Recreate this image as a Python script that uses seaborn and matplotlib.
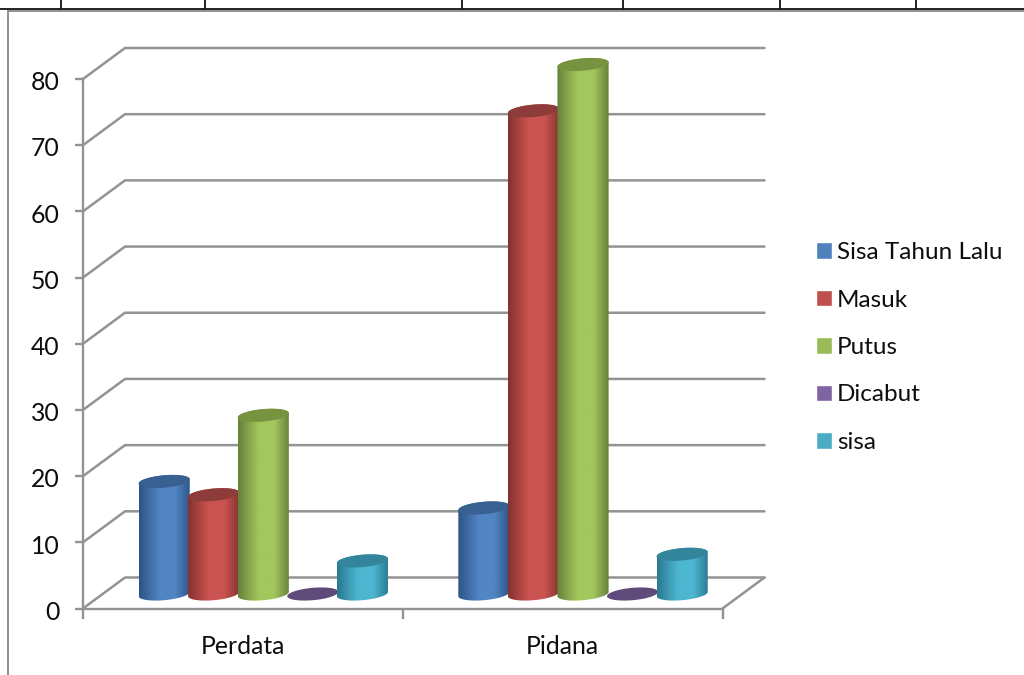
import matplotlib
matplotlib.use("Agg")
import matplotlib.pyplot as plt
import numpy as np
import pandas as pd
import seaborn as sns
from matplotlib.colors import LinearSegmentedColormap
from matplotlib.lines import Line2D
from matplotlib.path import Path
from matplotlib.patches import PathPatch
from matplotlib.transforms import Affine2D, IdentityTransform

categories = ["Perdata", "Pidana"]
series_names = ["Sisa Tahun Lalu", "Masuk", "Putus", "Dicabut", "sisa"]
sisa_tahun_lalu = [17, 13]
masuk = [15, 73]
putus = [27, 80]
dicabut = [0, 0]
sisa = [5, 6]
y_ticks = [0, 10, 20, 30, 40, 50, 60, 70, 80]

face_colors = ["#4F81BD", "#C0504D", "#9BBB59", "#8064A2", "#4BACC6"]
mid_colors = ["#5285C5", "#CB5451", "#A3C75D", "#8064A2", "#4DB6D1"]
edge_colors = ["#2C5485", "#84322F", "#66813A", "#5F497A", "#2A7890"]
cap_colors = ["#386090", "#8E3C39", "#77933F", "#604A7B", "#33859C"]

GRID = "#939393"
TEXT = "#0D0D0D"
W, H = 1024, 675

sns.set_theme(style="white")
plt.rcParams["font.family"] = ["Lato", "DejaVu Sans"]

fig = plt.figure(figsize=(W / 100, H / 100), dpi=100, facecolor="white")
ax = fig.add_axes([83 / W, 1 - 608.5 / H, 639.5 / W, 529.5 / H])

values = [sisa_tahun_lalu, masuk, putus, dicabut, sisa]
df = pd.DataFrame({
    "kategori": [c for _ in series_names for c in categories],
    "perkara": [s for s in series_names for _ in categories],
    "jumlah": [v for row in values for v in row],
})

sns.barplot(data=df, x="kategori", y="jumlah", hue="perkara", hue_order=series_names,
            order=categories, palette=face_colors, width=0.775, gap=0, saturation=1,
            errorbar=None, ax=ax, zorder=3)

ax.set_xlim(-0.5, 1.5)
ax.set_ylim(0, 80)
ax.set_xlabel("")
ax.set_ylabel("")
ax.patch.set_alpha(0)
for name, spine in ax.spines.items():
    spine.set_visible(name in ("left", "bottom"))
    spine.set_color(GRID)
    spine.set_linewidth(1.7)

ax.set_yticks(y_ticks)
ax.tick_params(axis="y", length=6, width=1.7, color=GRID, left=True, pad=11,
               labelsize=17.8, labelcolor=TEXT)
ax.set_xticks([-0.5, 0.5, 1.5], labels=[])
ax.set_xticks([0, 1], labels=categories, minor=True)
ax.tick_params(axis="x", which="major", length=7, width=1.7, color=GRID, bottom=True)
ax.tick_params(axis="x", which="minor", length=0, pad=19, labelsize=17.8, labelcolor=TEXT)


def to_px(x, v, dx=0.0, dy=0.0):
    px, py = ax.transData.transform((x, v))
    return px + dx, py + dy


def guide(points):
    xs, ys = zip(*points)
    ax.add_line(Line2D(xs, ys, transform=IdentityTransform(), color=GRID, lw=1.8,
                       clip_on=False, zorder=1, solid_capstyle="round"))


# Back wall and left wall of the 3-D box
DEPTH_X, DEPTH_Y = 42, 31
for v in y_ticks:
    guide([to_px(-0.5, v), to_px(-0.5, v, DEPTH_X, DEPTH_Y), to_px(1.5, v, DEPTH_X, DEPTH_Y)])
guide([to_px(1.5, 0), to_px(1.5, 0, DEPTH_X, DEPTH_Y)])

# Cylinders sit halfway into the box depth
FLOOR_DX, FLOOR_DY = 20.4, 14.5
CAP_B, CAP_TILT = 6.2, 0.085
bar_shift = Affine2D().translate(FLOOR_DX, FLOOR_DY)


def ellipse(cx, cy, a, t):
    return np.column_stack([cx + a * np.cos(t), cy + CAP_B * np.sin(t) + CAP_TILT * a * np.cos(t)])


for s, container in enumerate(ax.containers):
    cmap = LinearSegmentedColormap.from_list(
        f"cyl{s}", [(0, edge_colors[s]), (0.4, mid_colors[s]), (0.7, mid_colors[s]), (1, edge_colors[s])])
    shade = np.linspace(0, 1, 128)[None, :]
    for bar in container:
        x0, w, v = bar.get_x(), bar.get_width(), bar.get_height()
        left, base = to_px(x0, 0, FLOOR_DX, FLOOR_DY)
        right, top = to_px(x0 + w, v, FLOOR_DX, FLOOR_DY)
        cx, a = (left + right) / 2, (right - left) / 2 + 0.8
        z = 3 + s * 0.1

        if v > 0:
            lower = ellipse(cx, base, a, np.linspace(np.pi, 2 * np.pi, 40))
            upper = ellipse(cx, top, a, np.linspace(0, np.pi, 40))
            body = Path(np.vstack([lower, upper, lower[:1]]), closed=True)
            bar.set_transform(bar_shift + ax.transData)
            bar.set_clip_path(body, IdentityTransform())
            bar.set_zorder(z)
            im = ax.imshow(shade, cmap=cmap, vmin=0, vmax=1, aspect="auto",
                           extent=(cx - a, cx + a, base - CAP_B - 4, top + CAP_B + 4),
                           transform=IdentityTransform(), zorder=z, interpolation="bilinear")
            im.set_clip_box(fig.bbox)
            im.set_clip_path(body, IdentityTransform())
        else:
            bar.set_visible(False)

        cap = Path(ellipse(cx, top, a, np.linspace(0, 2 * np.pi, 60)), closed=True)
        ax.add_patch(PathPatch(cap, facecolor=cap_colors[s], edgecolor="none",
                               transform=IdentityTransform(), clip_on=False, zorder=z + 0.01))

ax.set_xlim(-0.5, 1.5)
ax.set_ylim(0, 80)

# Value labels sit slightly below their tick marks
for tick in ax.yaxis.get_major_ticks():
    tick.label1.set_transform(tick.label1.get_transform() + Affine2D().translate(0, -1.8))

sns.move_legend(ax, "center left", bbox_to_anchor=(816 / W, 1 - 347.5 / H),
                bbox_transform=fig.transFigure, title=None, frameon=False, fontsize=17.5,
                handlelength=0.65, handleheight=0.65, handletextpad=0.22,
                labelspacing=1.09, borderpad=0, borderaxespad=0)
for text in ax.get_legend().get_texts():
    text.set_color(TEXT)


# Table rules above the chart and the chart's own frame
def page_line(x0, y0, x1, y1, color, lw):
    fig.add_artist(Line2D([x0 / W, x1 / W], [1 - y0 / H, 1 - y1 / H], color=color, lw=lw,
                          transform=fig.transFigure, solid_capstyle="butt"))


page_line(0, 8.8, W, 8.8, "#111111", 1.3)
for x in (60.5, 205, 462, 623, 780, 916):
    page_line(x, 0, x, 9, "#111111", 1.3)
page_line(8, 10.5, W, 10.5, "#8F8F8F", 1.4)
page_line(8, 10, 8, H, "#8F8F8F", 1.4)

fig.savefig("out.png", dpi=100, facecolor="white")
